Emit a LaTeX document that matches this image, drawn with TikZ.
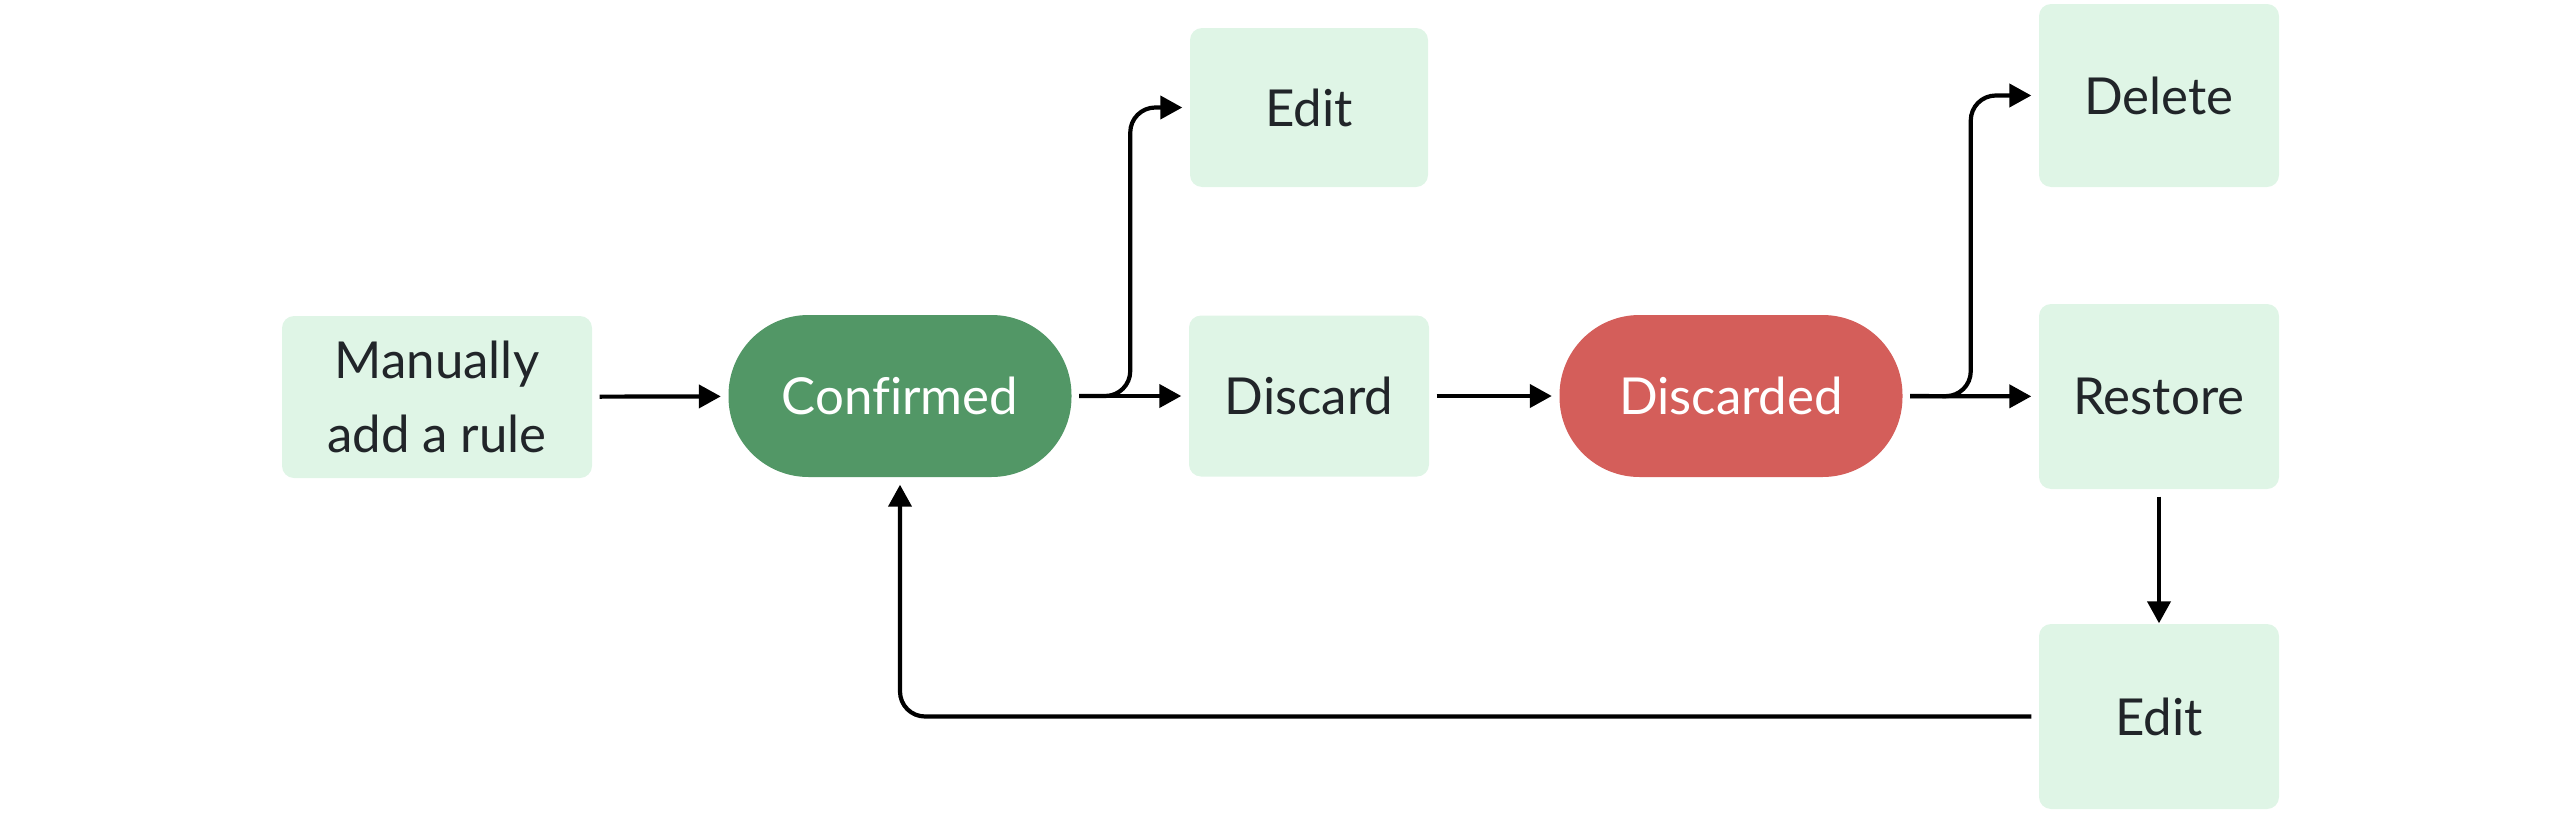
\documentclass[tikz,border=0pt]{standalone}
\usepackage{fontspec}
\setmainfont{Lato}[Ligatures=NoCommon]
\usepackage{xcolor}
\usepackage{tikz}
\usetikzlibrary{arrows.meta, positioning, calc}

\definecolor{actionfill}{RGB}{223,245,230}
\definecolor{keepgreen}{RGB}{82,151,102}
\definecolor{dropred}{RGB}{212,94,90}
\definecolor{inkdark}{RGB}{33,37,41}

\begin{document}
\begin{tikzpicture}[
    action/.style={rectangle, rounded corners=0.12cm, fill=actionfill, text=inkdark, minimum width=2.4cm, minimum height=1.6cm, align=center, font=\fontsize{14.5}{21}\selectfont},
    status/.style={rectangle, rounded corners=0.8cm, text=white, minimum width=3.43cm, minimum height=1.62cm, align=center, font=\fontsize{14.5}{21}\selectfont},
    confirmedstate/.style={status, fill=keepgreen},
    discardedstate/.style={status, fill=dropred},
    arrow/.style={-{Triangle[length=0.22cm, width=0.23cm]}, line width=0.042cm, shorten <=0.07cm, shorten >=0.07cm, rounded corners=0.25cm}
]
\useasboundingbox (0,0) rectangle (25.6,-8.4);

% states and actions
\node[action, minimum width=3.1cm, minimum height=1.62cm] (manual) at (4.37,-3.97) {Manually\\add a rule};
\node[confirmedstate] (confirmed) at (9.0,-3.96) {Confirmed};
\node[action, minimum height=1.61cm] (discard) at (13.09,-3.96) {Discard};
\node[action, minimum width=2.38cm, minimum height=1.59cm] (editfirst) at (13.09,-1.075) {Edit};
\node[discardedstate] (discarded) at (17.31,-3.96) {Discarded};
\node[action, minimum height=1.85cm] (restore) at (21.59,-3.965) {Restore};
\node[action, minimum height=1.83cm] (delete) at (21.59,-0.955) {Delete};
\node[action, minimum height=1.85cm] (editsecond) at (21.59,-7.165) {Edit};

% branch points
\coordinate (forkgreen) at ($(confirmed.east)!0.5!(discard.west)$);
\coordinate (forkred) at ($(discarded.east)!0.5!(restore.west)$);

\draw[arrow] (manual) -- (confirmed);
\draw[arrow] (confirmed) -- (discard);
\draw[arrow] (confirmed.east) -- (forkgreen) |- (editfirst.west);
\draw[arrow] (discard) -- (discarded);
\draw[arrow] (discarded) -- (restore);
\draw[arrow] (discarded.east) -- (forkred) |- (delete.west);
\draw[arrow, shorten >=0cm] (restore) -- (editsecond);
\draw[arrow] (editsecond.west) -| (confirmed.south);

\end{tikzpicture}
\end{document}
